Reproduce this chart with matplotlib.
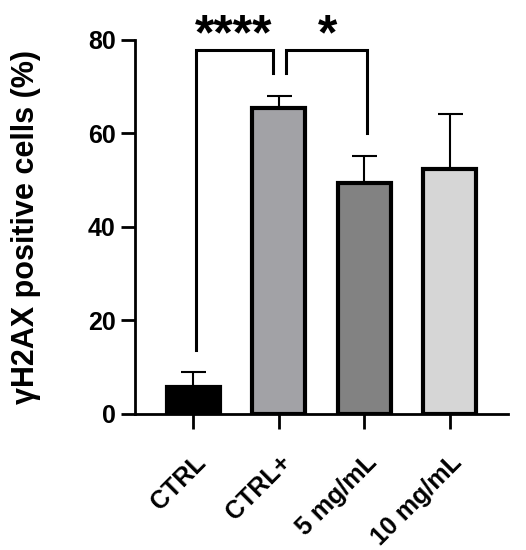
import numpy as np
import matplotlib
matplotlib.use('Agg')
import matplotlib.pyplot as plt
from matplotlib.transforms import ScaledTranslation

plt.rcParams['font.family'] = ['Liberation Sans', 'DejaVu Sans']
plt.rcParams['font.weight'] = 'bold'

groups = ['CTRL', 'CTRL+', '5 mg/mL', '10 mg/mL']
means = [5.8, 65.4, 49.5, 52.5]
sd_upper = [3.2, 2.7, 5.7, 11.6]
colors = ['#000000', '#a2a2a6', '#828282', '#d6d6d6']

# significance brackets: (x left, x right, top, left leg end, right leg end, label, label x)
brackets = [
    (0.03, 0.93, 77.9, 13.7, 73.0, '****', 0.47),
    (1.09, 2.03, 77.9, 73.0, 60.0, '*', 1.57),
]

fig = plt.figure(figsize=(5.26, 5.50), dpi=100)
ax = fig.add_axes([0.2567, 0.2473, 0.7091, 0.68])

x = np.arange(len(groups))
ax.bar(x, means, width=0.62, color=colors, edgecolor='black', linewidth=3, zorder=2)
ax.errorbar(x, means, yerr=[np.zeros(len(means)), sd_upper], fmt='none',
            ecolor='black', elinewidth=1.5, capsize=9, capthick=1.5, zorder=1)

for x0, x1, top, l0, l1, lab, lx in brackets:
    ax.plot([x0, x0, x1, x1], [l0, top, top, l1], color='black', lw=2.2,
            clip_on=False, solid_joinstyle='miter')
    ax.text(lx, 78.0, lab, ha='center', va='baseline', fontsize=36,
            fontweight='bold', clip_on=False)

ax.set_xlim(-0.68, 3.68)
ax.set_ylim(0, 80)
ax.set_yticks([0, 20, 40, 60, 80])
ax.set_xticks(x)
ax.set_xticklabels(groups, rotation=45, ha='right', rotation_mode='anchor',
                   fontsize=18, fontweight='bold')
shift = ScaledTranslation(5 / 72, 0, fig.dpi_scale_trans)
for lbl in ax.get_xticklabels():
    lbl.set_transform(lbl.get_transform() + shift)
for lbl in ax.get_yticklabels():
    lbl.set_fontsize(18)
    lbl.set_fontweight('bold')
ax.set_ylabel('γH2AX positive cells (%)', fontsize=22, fontweight='bold', labelpad=34)

for s in ['top', 'right']:
    ax.spines[s].set_visible(False)
for s in ['left', 'bottom']:
    ax.spines[s].set_linewidth(2)
ax.tick_params(axis='y', width=2, length=10, pad=4)
ax.tick_params(axis='x', width=2, length=11, pad=15)

fig.savefig('out.png', dpi=100)
